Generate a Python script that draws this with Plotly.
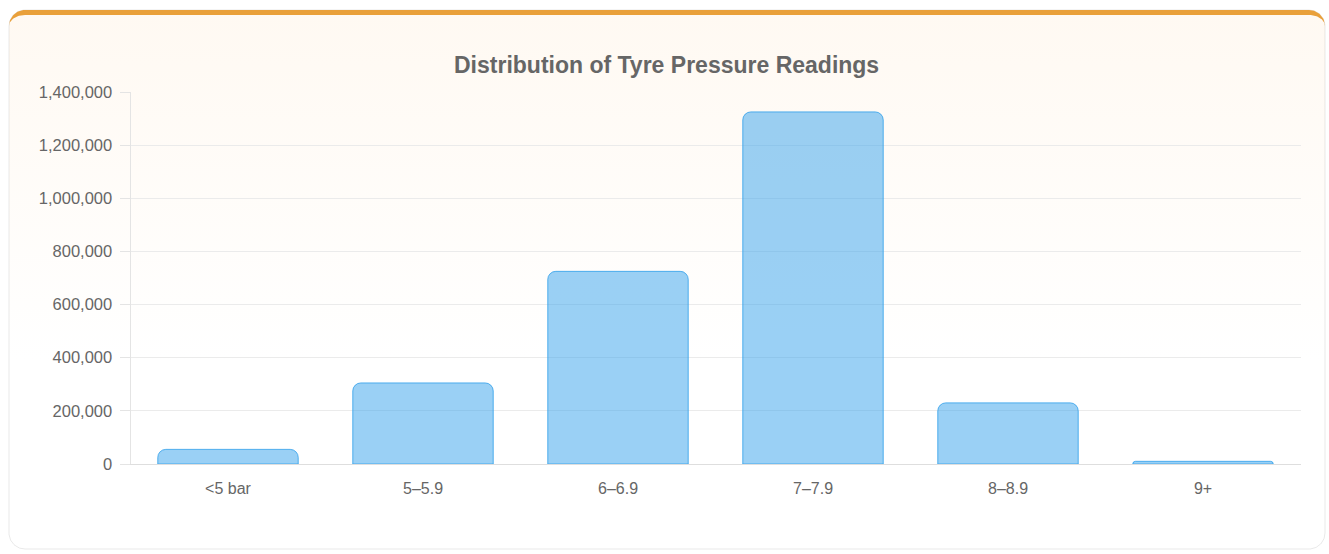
import numpy as np
import plotly.graph_objects as go

# ---- data ----
categories = ["<5 bar", "5–5.9", "6–6.9", "7–7.9", "8–8.9", "9+"]
readings = [55000, 305000, 725000, 1325000, 230000, 10000]
y_tick_values = [0, 200000, 400000, 600000, 800000, 1000000, 1200000, 1400000]
y_tick_labels = ["0", "200,000", "400,000", "600,000", "800,000", "1,000,000", "1,200,000", "1,400,000"]
title_text = "Distribution of Tyre Pressure Readings"

W, H = 1329, 554
FONT = "Liberation Sans, Arial, sans-serif"


def arc(cx, cy, rx, ry, a0, a1, n=30):
    t = np.radians(np.linspace(a0, a1, n))
    return list(cx + rx * np.cos(t)), list(cy + ry * np.sin(t))


def rrect(x0, y0, x1, y1, r):
    xs, ys = [], []
    for cx, cy, a0, a1 in [(x0 + r, y0 + r, 180, 270), (x1 - r, y0 + r, 270, 360),
                           (x1 - r, y1 - r, 0, 90), (x0 + r, y1 - r, 90, 180)]:
        ax, ay = arc(cx, cy, r, r, a0, a1)
        xs += ax
        ys += ay
    xs.append(xs[0])
    ys.append(ys[0])
    return xs, [H - v for v in ys]


def top_band(x0, y0, x1, r, bt):
    xs, ys = [], []
    ax, ay = arc(x0 + r, y0 + r, r, r, 180, 270); xs += ax; ys += ay
    ax, ay = arc(x1 - r, y0 + r, r, r, 270, 360); xs += ax; ys += ay
    ax, ay = arc(x1 - r, y0 + r, r, r - bt, 360, 270); xs += ax; ys += ay
    ax, ay = arc(x0 + r, y0 + r, r, r - bt, 270, 180); xs += ax; ys += ay
    xs.append(xs[0])
    ys.append(ys[0])
    return xs, [H - v for v in ys]


cl, ct, cr, cb, R, BT = 9, 10, 1325, 549, 16, 5

fig = go.Figure()

# card body with soft gradient and faint outline
bx, by = rrect(cl, ct, cr, cb, R)
fig.add_trace(go.Scatter(x=bx, y=by, mode="lines", fill="toself",
                         fillgradient=dict(type="vertical",
                                           colorscale=[[0, "#ffffff"], [0.35, "#ffffff"], [1, "#fff9f2"]]),
                         line=dict(color="rgba(0,0,0,0.09)", width=1),
                         hoverinfo="skip", showlegend=False, xaxis="x", yaxis="y"))
# orange top border
tx, ty = top_band(cl, ct, cr, R, BT)
fig.add_trace(go.Scatter(x=tx, y=ty, mode="lines", fill="toself",
                         fillcolor="#E9A03A", line=dict(color="rgba(0,0,0,0)", width=0),
                         hoverinfo="skip", showlegend=False, xaxis="x", yaxis="y"))

# bars
fig.add_trace(go.Bar(x=categories, y=readings, xaxis="x2", yaxis="y2",
                     marker=dict(color="rgba(54,162,235,0.5)",
                                 line=dict(color="rgba(54,162,235,0.85)", width=1)),
                     showlegend=False))

pl, pr, pt, pb = 130.5, 1300.5, 92, 464

fig.update_layout(
    width=W, height=H, autosize=False,
    margin=dict(l=0, r=0, t=0, b=0, autoexpand=False),
    paper_bgcolor="#ffffff",
    plot_bgcolor="rgba(0,0,0,0)",
    bargap=0.28,
    barcornerradius=8,
    xaxis=dict(domain=[0, 1], range=[0, W], visible=False, fixedrange=True, automargin=False),
    yaxis=dict(domain=[0, 1], range=[0, H], visible=False, fixedrange=True, automargin=False),
    xaxis2=dict(domain=[pl / W, pr / W], anchor="y2", type="category", automargin=False,
                showgrid=False, showline=True, linecolor="#dedede", linewidth=1,
                ticks="outside", ticklen=10, tickcolor="rgba(0,0,0,0)",
                tickfont=dict(family=FONT, size=16, color="#666666"),
                zeroline=False),
    yaxis2=dict(domain=[(H - pb) / H, (H - pt) / H], anchor="x2", automargin=False,
                range=[0, 1400000], tickvals=y_tick_values, ticktext=y_tick_labels,
                ticks="outside", ticklen=10, tickcolor="#e4e4e4", tickwidth=1,
                ticklabelstandoff=4,
                gridcolor="#ebebeb", gridwidth=1,
                showline=True, linecolor="#e4e4e4", linewidth=1,
                zeroline=False,
                tickfont=dict(family=FONT, size=16.5, color="#666666")),
    annotations=[dict(text="<b>" + title_text + "</b>", xref="paper", yref="paper",
                      x=666.5 / W, y=(H - 65) / H, xanchor="center", yanchor="middle",
                      showarrow=False,
                      font=dict(family=FONT, size=23, color="#666666"))],
)

css_js = ("var s=document.createElement('style');"
          "s.innerHTML='html,body{margin:0;padding:0;height:554px;overflow:hidden;background:#fff}';"
          "document.head.appendChild(s);")
fig.write_html("out.html",
               config=dict(displayModeBar=False, responsive=False),
               post_script=css_js)
